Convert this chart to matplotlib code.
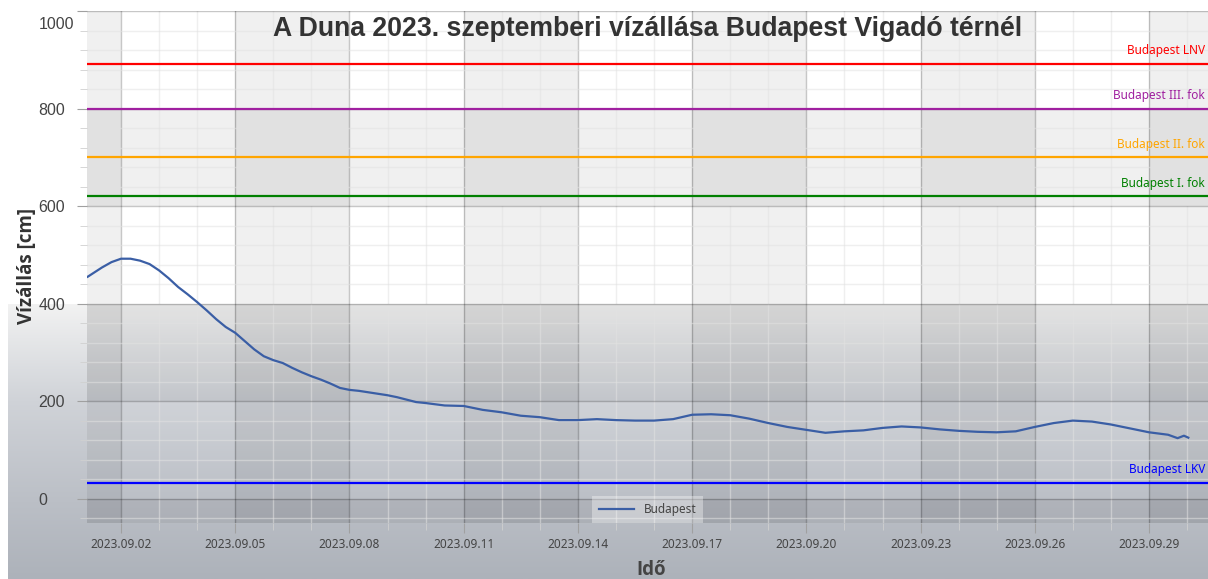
import numpy as np
import pandas as pd
import matplotlib
matplotlib.use("Agg")
from matplotlib import pyplot as plt
import matplotlib.dates as mdates
from matplotlib.colors import LinearSegmentedColormap
from matplotlib.transforms import ScaledTranslation

# water level readings (cm)
times = ["2023-09-01 03:00", "2023-09-01 12:00", "2023-09-01 18:00",
         "2023-09-02 00:00", "2023-09-02 06:00", "2023-09-02 12:00", "2023-09-02 18:00",
         "2023-09-03 00:00", "2023-09-03 06:00", "2023-09-03 12:00", "2023-09-03 18:00",
         "2023-09-04 00:00", "2023-09-04 06:00", "2023-09-04 12:00", "2023-09-04 18:00",
         "2023-09-05 00:00", "2023-09-05 06:00", "2023-09-05 12:00", "2023-09-05 18:00",
         "2023-09-06 00:00", "2023-09-06 06:00", "2023-09-06 12:00", "2023-09-06 18:00",
         "2023-09-07 00:00", "2023-09-07 06:00", "2023-09-07 12:00", "2023-09-07 18:00",
         "2023-09-08 00:00", "2023-09-08 06:00", "2023-09-08 12:00", "2023-09-08 18:00",
         "2023-09-09 00:00", "2023-09-09 06:00", "2023-09-09 12:00", "2023-09-09 18:00",
         "2023-09-10 00:00", "2023-09-10 12:00", "2023-09-11 00:00", "2023-09-11 12:00",
         "2023-09-12 00:00", "2023-09-12 12:00", "2023-09-13 00:00", "2023-09-13 12:00",
         "2023-09-14 00:00", "2023-09-14 12:00", "2023-09-15 00:00", "2023-09-15 12:00",
         "2023-09-16 00:00", "2023-09-16 12:00", "2023-09-17 00:00", "2023-09-17 12:00",
         "2023-09-18 00:00", "2023-09-18 12:00", "2023-09-19 00:00", "2023-09-19 12:00",
         "2023-09-20 00:00", "2023-09-20 12:00", "2023-09-21 00:00", "2023-09-21 12:00",
         "2023-09-22 00:00", "2023-09-22 12:00", "2023-09-23 00:00", "2023-09-23 12:00",
         "2023-09-24 00:00", "2023-09-24 12:00", "2023-09-25 00:00", "2023-09-25 12:00",
         "2023-09-26 00:00", "2023-09-26 12:00", "2023-09-27 00:00", "2023-09-27 12:00",
         "2023-09-28 00:00", "2023-09-28 12:00", "2023-09-29 00:00", "2023-09-29 12:00",
         "2023-09-29 18:00", "2023-09-29 22:00", "2023-09-30 00:45"]
levels = [455, 474, 485,
          492, 492, 488, 481,
          468, 452, 434, 419,
          403, 386, 368, 352,
          340, 323, 306, 292,
          284, 278, 268, 259,
          251, 244, 236, 227,
          223, 221, 218, 215,
          212, 208, 203, 198,
          196, 191, 190, 182,
          177, 170, 167, 161,
          161, 163, 161, 160,
          160, 163, 172, 173,
          171, 164, 155, 147,
          141, 135, 138, 140,
          145, 148, 146, 142,
          139, 137, 136, 138,
          147, 155, 160, 158,
          152, 144, 136, 131,
          124, 129, 125]

# reference levels
ref_names = ["Budapest LNV", "Budapest III. fok", "Budapest II. fok", "Budapest I. fok", "Budapest LKV"]
ref_values = [891, 800, 700, 620, 32]
ref_colors = ["#ff0000", "#a020a0", "#ffa500", "#008000", "#0000ff"]

t = pd.to_datetime(times)

fig = plt.figure(figsize=(12.08, 5.79), dpi=100, facecolor="white")

# grey gradient in the lower part of the figure
bg = fig.add_axes([8/1208, 0, 1200/1208, 275/579])
bg.set_zorder(0)
cmap = LinearSegmentedColormap.from_list("bg", [(0.0, "#f2f2f2"), (0.35, "#d0d3d8"),
                                                (0.72, "#bbbfc6"), (1.0, "#adb2ba")])
bg.imshow(np.linspace(0, 1, 256).reshape(-1, 1), aspect="auto", cmap=cmap,
          extent=[0, 1, 0, 1], origin="upper")
bg.axis("off")

ax = fig.add_axes([87/1208, 56/579, 1121/1208, 512/579])
ax.set_zorder(1)
ax.set_facecolor("none")

x0 = pd.Timestamp("2023-09-01 02:34")
x1 = pd.Timestamp("2023-09-30 13:10")
ax.set_xlim(x0, x1)
ax.set_ylim(-50, 1000)

# alternating bands
edges = [x0] + list(pd.date_range("2023-09-02", "2023-09-29", freq="3D")) + [x1]
for i in range(len(edges) - 1):
    if i % 2 == 0:
        ax.axvspan(edges[i], edges[i + 1], color="black", alpha=0.06, lw=0, zorder=0)
for lo, hi in [(600, 800), (200, 400), (-50, 0)]:
    ax.axhspan(lo, hi, color="black", alpha=0.06, lw=0, zorder=0)

ax.plot(t, levels, color="#3a5ea5", linewidth=1.6, label="Budapest", zorder=3)

for name, val, col in zip(ref_names, ref_values, ref_colors):
    ax.axhline(val, color=col, linewidth=1.6, zorder=2)
    ax.annotate(name, xy=(1.0, val), xycoords=("axes fraction", "data"),
                xytext=(-2, 9.5), textcoords="offset points", ha="right", va="center",
                color=col, fontsize=8.5, family="Noto Sans")

ax.xaxis.set_major_locator(mdates.DayLocator(bymonthday=range(2, 30, 3)))
ax.xaxis.set_minor_locator(mdates.DayLocator())
ax.xaxis.set_major_formatter(mdates.DateFormatter("%Y.%m.%d"))
ax.set_yticks([0, 200, 400, 600, 800, 1000])
ax.set_yticks(np.arange(-40, 1001, 40), minor=True)

ax.set_axisbelow(True)
ax.grid(which="major", color="black", alpha=0.22, linewidth=1)
ax.grid(which="minor", color="#e2e2e2", alpha=0.55, linewidth=1)
for s in ax.spines.values():
    s.set_visible(False)

ax.tick_params(axis="both", which="major", length=7, color="#a0a0a0")
ax.tick_params(axis="both", which="minor", length=5, color="#d0d0d0")
ax.tick_params(axis="x", which="major", pad=4, labelsize=8.5, labelcolor="#444444")
ax.tick_params(axis="y", which="major", pad=28, labelsize=11.5, labelcolor="#444444")
for lab in ax.get_xticklabels():
    lab.set_family("Noto Sans")
for lab in ax.get_yticklabels():
    lab.set_family("Liberation Sans")
    lab.set_ha("left")
top_tick = ax.yaxis.get_major_ticks()[-1]
top_tick.label1.set_transform(top_tick.label1.get_transform()
                              + ScaledTranslation(0, -12/100, fig.dpi_scale_trans))

ax.text(0.5, 0.965, "A Duna 2023. szeptemberi vízállása Budapest Vigadó térnél",
        transform=ax.transAxes, ha="center", va="center", fontsize=19.2,
        fontweight="bold", color="#333333", family="Liberation Sans", zorder=5)

fig.text(27/1208, 1 - 266/579, "Vízállás [cm]", rotation=90, ha="center", va="center",
         fontsize=13.5, fontweight="bold", color="#333333", family="Open Sans")
fig.text(651/1208, 1 - 570/579, "Idő", ha="center", va="center",
         fontsize=13.5, fontweight="bold", color="#444444", family="Open Sans")

leg = ax.legend(loc="lower center", borderaxespad=0, frameon=True, fancybox=False,
                prop={"family": "Noto Sans", "size": 8.5, "weight": "bold"},
                handlelength=3, borderpad=0.6)
leg.get_frame().set_facecolor("white")
leg.get_frame().set_alpha(0.35)
leg.get_frame().set_linewidth(0)
for txt in leg.get_texts():
    txt.set_color("#444444")

plt.savefig("out.png", dpi=100)
